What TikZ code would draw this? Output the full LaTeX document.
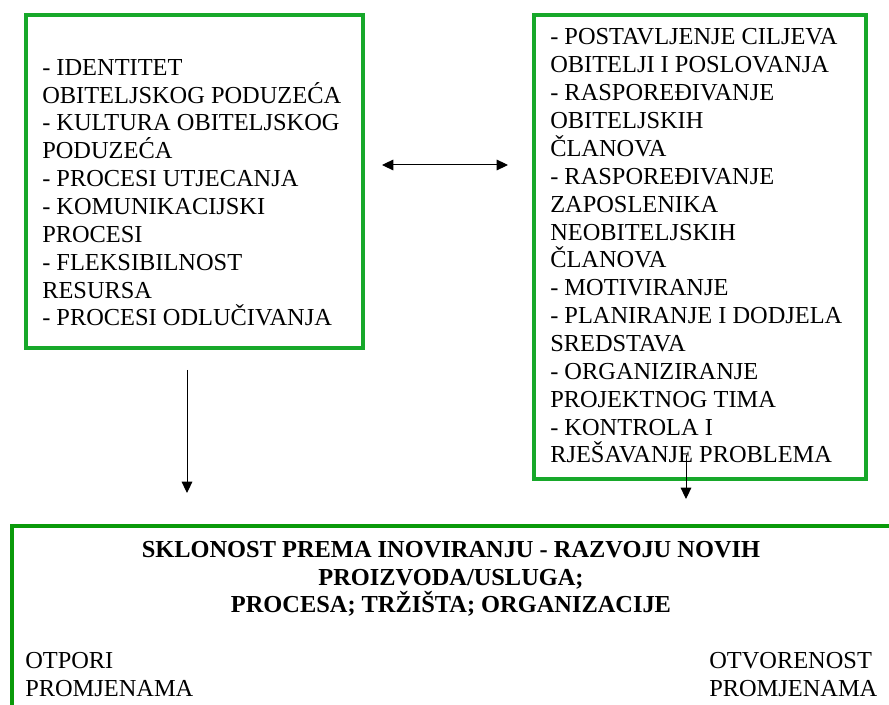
\documentclass[tikz,border=0pt]{standalone}
\usepackage{fontspec}
\setmainfont{Liberation Serif}
\usetikzlibrary{arrows.meta}
\definecolor{boxgreen}{HTML}{17A82A}
\definecolor{basegreen}{HTML}{0A9A0A}
\begin{document}
\begin{tikzpicture}[x=0.75pt,y=-0.75pt,
  txt/.style={inner sep=0pt,align=left,font=\fontsize{18.3}{20.9}\selectfont},
  btxt/.style={inner sep=0pt,align=center,font=\fontsize{18.3}{20.9}\selectfont\bfseries},
  arr/.style={-{Triangle[length=8.5pt,width=8pt]},line width=0.75pt},
  darr/.style={{Triangle[length=8.5pt,width=8pt]}-{Triangle[length=8.5pt,width=8pt]},line width=0.75pt}]
\useasboundingbox (0,0) rectangle (889,705);
\begin{scope}
\clip (0,0) rectangle (889,705);
\node[draw=basegreen,line width=3pt,inner sep=0pt,minimum width=900*0.75pt,minimum height=200*0.75pt,anchor=north west] (B) at (10,524) {};
\end{scope}
\node[draw=boxgreen,line width=3pt,inner sep=0pt,minimum width=337*0.75pt,minimum height=333*0.75pt,anchor=north west] (L) at (24,13) {};
\node[draw=boxgreen,line width=3pt,inner sep=0pt,minimum width=332*0.75pt,minimum height=464*0.75pt,anchor=north west] (R) at (532,13) {};
\node[txt,anchor=base west] (Lt) at (42,326) {- IDENTITET\\OBITELJSKOG PODUZEĆA\\- KULTURA OBITELJSKOG\\PODUZEĆA\\- PROCESI UTJECANJA\\- KOMUNIKACIJSKI\\PROCESI\\- FLEKSIBILNOST\\RESURSA\\- PROCESI ODLUČIVANJA};
\node[txt,anchor=base west] (Rt) at (550,463) {- POSTAVLJENJE CILJEVA\\OBITELJI I POSLOVANJA\\- RASPOREĐIVANJE\\OBITELJSKIH\\ČLANOVA\\- RASPOREĐIVANJE\\ZAPOSLENIKA\\NEOBITELJSKIH\\ČLANOVA\\- MOTIVIRANJE\\- PLANIRANJE I DODJELA\\SREDSTAVA\\- ORGANIZIRANJE\\PROJEKTNOG TIMA\\- KONTROLA I\\RJEŠAVANJE PROBLEMA};
\node[btxt,anchor=base] (Bt) at (451,613) {SKLONOST PREMA INOVIRANJU - RAZVOJU NOVIH\\PROIZVODA/USLUGA;\\PROCESA; TRŽIŠTA; ORGANIZACIJE};
\node[txt,anchor=base west] (Bl) at (25,696) {OTPORI\\PROMJENAMA};
\node[txt,anchor=base west] (Br) at (709,696) {OTVORENOST\\PROMJENAMA};
\coordinate (a1) at (187,370);
\coordinate (a1e) at (187,493);
\draw[arr] (a1) -- (a1e);
\coordinate (a2) at (686,455);
\coordinate (a2e) at (686,499);
\draw[arr] (a2) -- (a2e);
\coordinate (d1) at (382,165);
\coordinate (d2) at (508,165);
\draw[darr] (d1) -- (d2);
\end{tikzpicture}
\end{document}
